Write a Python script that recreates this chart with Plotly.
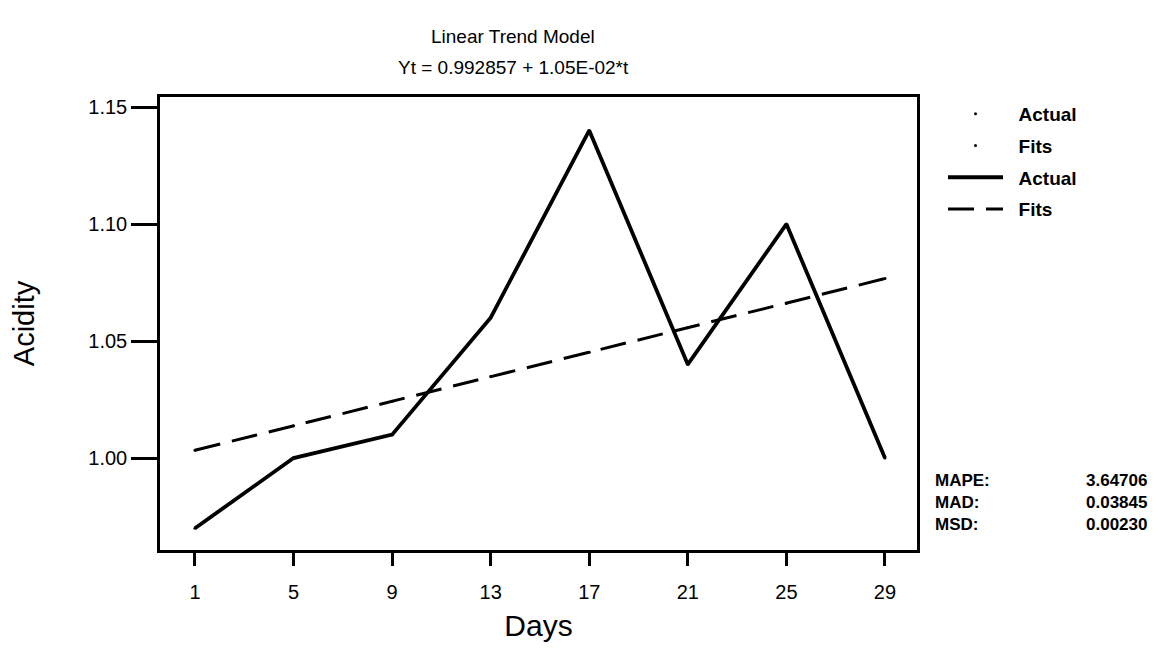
import plotly.graph_objects as go

days = [1, 5, 9, 13, 17, 21, 25, 29]
actual = [0.97, 1.00, 1.01, 1.06, 1.14, 1.04, 1.10, 1.00]
fits = [1.0033, 1.0138, 1.0243, 1.0348, 1.0452, 1.0557, 1.0662, 1.0767]
y_ticks = [1.00, 1.05, 1.10, 1.15]
y_tick_labels = ["1.00", "1.05", "1.10", "1.15"]
stat_names = ["MAPE:", "MAD:", "MSD:"]
stat_values = ["3.64706", "0.03845", "0.00230"]

FONT = "Liberation Sans, Arial, sans-serif"

# page body has an 8px default margin; target plot area in screen px: x 160..917, y 97..550
OFF = 8
W, H = 1167 - OFF, 653 - OFF
L, T = 160 - OFF, 97 - OFF
R = W - (917 - OFF)
B = H - (550 - OFF)
PW, PH = W - L - R, H - T - B


def px_x(x):
    return (x - OFF - L) / PW


def px_y(y):
    return (H - B - (y - OFF)) / PH


fig = go.Figure()
fig.add_trace(go.Scatter(x=days, y=actual, mode="markers", name="\u00a0\u00a0Actual",
                         marker=dict(color="black", size=3), legendgroup="a"))
fig.add_trace(go.Scatter(x=days, y=fits, mode="markers", name="\u00a0\u00a0Fits",
                         marker=dict(color="black", size=3), legendgroup="b"))
fig.add_trace(go.Scatter(x=days, y=actual, mode="lines", name="\u00a0\u00a0Actual",
                         line=dict(color="black", width=3.8), legendgroup="c"))
fig.add_trace(go.Scatter(x=days, y=fits, mode="lines", name="\u00a0\u00a0Fits",
                         line=dict(color="black", width=3, dash="26px,12px"), legendgroup="d"))

fig.update_layout(
    width=W, height=H,
    paper_bgcolor="white", plot_bgcolor="white",
    margin=dict(l=L, r=R, t=T, b=B, autoexpand=False),
    font=dict(family=FONT, color="black"),
    showlegend=True,
    legend=dict(x=px_x(943), y=px_y(95), xanchor="left", yanchor="top",
                font=dict(size=19, family=FONT, weight="bold"),
                traceorder="grouped", tracegroupgap=4,
                itemwidth=55, bgcolor="rgba(0,0,0,0)"),
    xaxis=dict(range=[-0.42, 30.3], tickvals=days, ticktext=[str(d) for d in days],
               showgrid=False, zeroline=False, showline=True, linecolor="black",
               linewidth=2.5, mirror=True, ticks="outside", ticklen=13, tickwidth=2.5,
               tickcolor="black", tickfont=dict(size=20), automargin=False,
               ticklabelstandoff=9,
               title=dict(text="Days", font=dict(size=30), standoff=14)),
    yaxis=dict(range=[0.9607, 1.1543], tickvals=y_ticks, ticktext=y_tick_labels,
               showgrid=False, zeroline=False, showline=True, linecolor="black",
               linewidth=2.5, mirror=True, ticks="outside", ticklen=26, tickwidth=2.5,
               tickcolor="black", tickfont=dict(size=20), automargin=False,
               title=dict(text="Acidity", font=dict(size=29), standoff=46)),
)

fig.add_annotation(text="Linear Trend Model", xref="paper", yref="paper",
                   x=px_x(513), y=px_y(37), showarrow=False,
                   font=dict(size=19, family=FONT), xanchor="center", yanchor="middle")
fig.add_annotation(text="Yt = 0.992857 + 1.05E-02*t", xref="paper", yref="paper",
                   x=px_x(513), y=px_y(67), showarrow=False,
                   font=dict(size=19, family=FONT), xanchor="center", yanchor="middle")

fig.add_annotation(text="<br>".join(stat_names), xref="paper", yref="paper",
                   x=px_x(933), y=px_y(469), showarrow=False, align="left",
                   xanchor="left", yanchor="top",
                   font=dict(size=17, family=FONT, weight="bold"))
fig.add_annotation(text="<br>".join(stat_values), xref="paper", yref="paper",
                   x=px_x(1149), y=px_y(469), showarrow=False, align="right",
                   xanchor="right", yanchor="top",
                   font=dict(size=17, family=FONT, weight="bold"))

fig.write_html("out.html")
